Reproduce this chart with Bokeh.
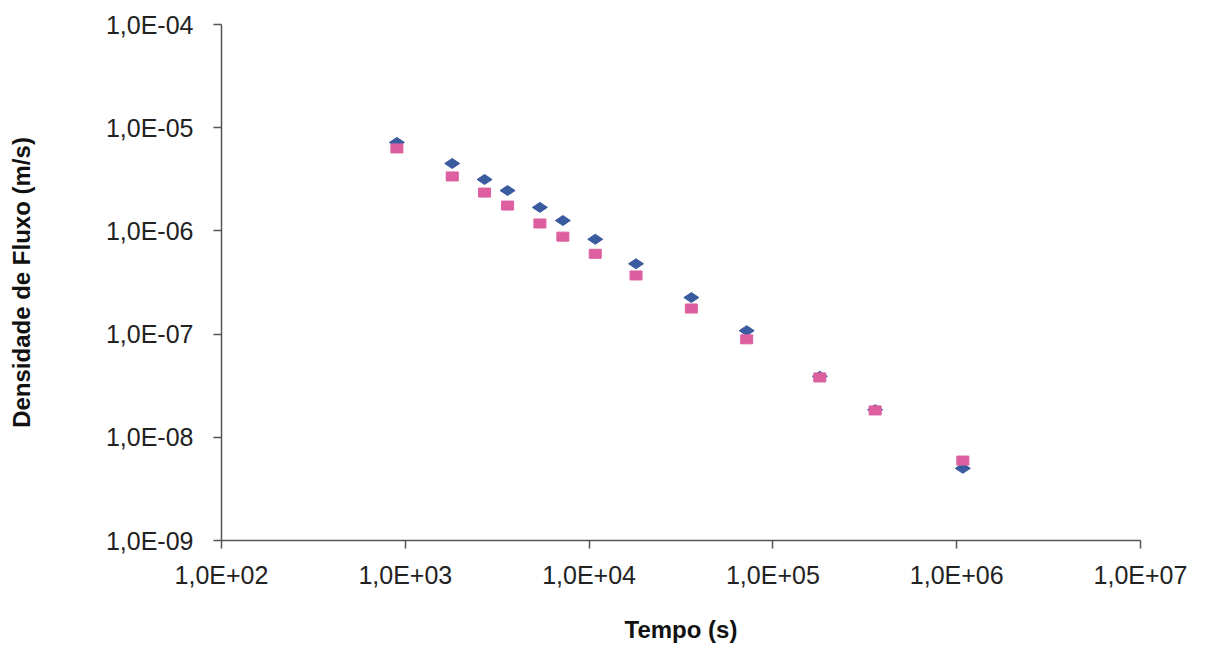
import math
from bokeh.plotting import figure
from bokeh.models import FixedTicker, Range1d
from bokeh.embed import file_html
from bokeh.resources import INLINE

# data
tempo_s = [900, 1800, 2700, 3600, 5400, 7200, 10800, 18000, 36000, 72000, 180000, 360000, 1080000]
fluxo_serie1 = [7.2e-6, 4.5e-6, 3.15e-6, 2.46e-6, 1.69e-6, 1.26e-6, 8.3e-7, 4.8e-7, 2.26e-7, 1.08e-7, 3.9e-8, 1.85e-8, 5.0e-9]
fluxo_serie2 = [6.3e-6, 3.37e-6, 2.35e-6, 1.76e-6, 1.18e-6, 8.8e-7, 6.0e-7, 3.7e-7, 1.77e-7, 8.9e-8, 3.8e-8, 1.82e-8, 5.95e-9]

x_ticks = [1e2, 1e3, 1e4, 1e5, 1e6, 1e7]
x_tick_labels = ["1,0E+02", "1,0E+03", "1,0E+04", "1,0E+05", "1,0E+06", "1,0E+07"]
y_ticks = [1e-9, 1e-8, 1e-7, 1e-6, 1e-5, 1e-4]
y_tick_labels = ["1,0E-09", "1,0E-08", "1,0E-07", "1,0E-06", "1,0E-05", "1,0E-04"]

p = figure(width=1213, height=645, x_axis_type="log", y_axis_type="log",
           x_range=Range1d(1e2, 1e7), y_range=Range1d(1e-9, 1e-4),
           output_backend="svg", toolbar_location=None,
           min_border_left=221, min_border_right=73, min_border_top=24, min_border_bottom=105)
p.outline_line_color = None
p.xgrid.visible = False
p.ygrid.visible = False
p.background_fill_color = "white"
p.border_fill_color = "white"

p.scatter(tempo_s, fluxo_serie1, marker="diamond", size=15, angle=math.pi / 2,
          fill_color="#3a5b9e", line_color="#3a5b9e")
p.rect(tempo_s, fluxo_serie2, width=12, height=9, width_units="screen", height_units="screen",
       fill_color="#dd5f9f", line_color="#dd5f9f")

p.xaxis.ticker = FixedTicker(ticks=x_ticks)
p.yaxis.ticker = FixedTicker(ticks=y_ticks)
p.xaxis.major_label_overrides = {t: l for t, l in zip(x_ticks, x_tick_labels)}
p.yaxis.major_label_overrides = {t: l for t, l in zip(y_ticks, y_tick_labels)}

for ax in (p.xaxis, p.yaxis):
    ax.axis_line_color = "#555555"
    ax.axis_line_width = 1.5
    ax.major_tick_line_color = "#555555"
    ax.major_tick_line_width = 1.5
    ax.major_tick_out = 8
    ax.major_tick_in = 0
    ax.minor_tick_out = 0
    ax.minor_tick_in = 0
    ax.major_label_text_font = "Liberation Sans"
    ax.major_label_text_font_size = "25px"
    ax.major_label_text_color = "#222222"
    ax.axis_label_text_font = "Liberation Sans"
    ax.axis_label_text_font_style = "bold"
    ax.axis_label_text_color = "#111111"

p.xaxis.axis_label = "Tempo (s)"
p.yaxis.axis_label = "Densidade de Fluxo (m/s)"
p.xaxis.axis_label_text_font_size = "24px"
p.yaxis.axis_label_text_font_size = "24px"
p.yaxis.major_label_standoff = 20
p.xaxis.major_label_standoff = 12
p.yaxis.axis_label_standoff = 68
p.xaxis.axis_label_standoff = 24

open("out.html", "w").write(file_html(p, INLINE))
